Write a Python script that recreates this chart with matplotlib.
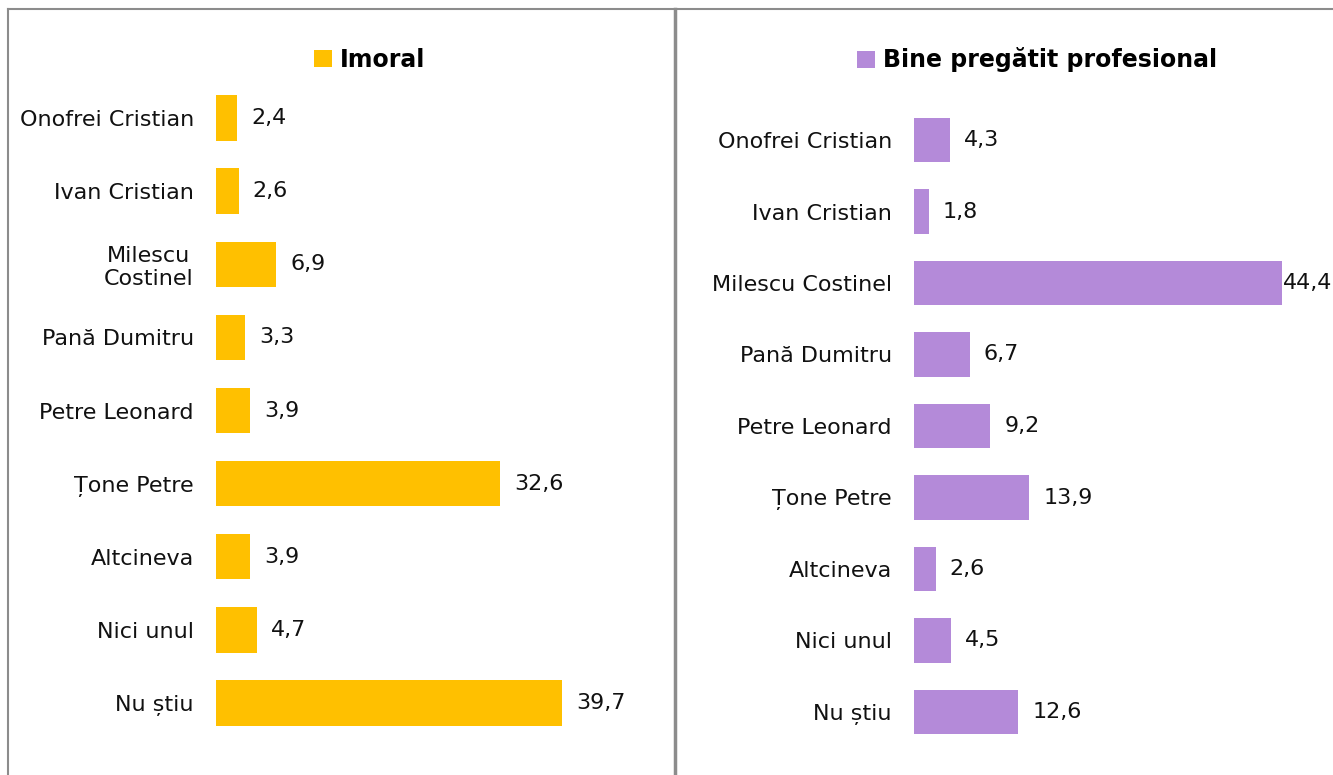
import matplotlib
matplotlib.use("Agg")
import matplotlib.pyplot as plt
from matplotlib.lines import Line2D

plt.rcParams['font.family'] = ['DejaVu Sans']

candidates_left = ["Onofrei Cristian", "Ivan Cristian", "Milescu\nCostinel", "Pană Dumitru",
                   "Petre Leonard", "Țone Petre", "Altcineva", "Nici unul", "Nu știu"]
candidates_right = ["Onofrei Cristian", "Ivan Cristian", "Milescu Costinel", "Pană Dumitru",
                    "Petre Leonard", "Țone Petre", "Altcineva", "Nici unul", "Nu știu"]
imoral = [2.4, 2.6, 6.9, 3.3, 3.9, 32.6, 3.9, 4.7, 39.7]
pregatit = [4.3, 1.8, 44.4, 6.7, 9.2, 13.9, 2.6, 4.5, 12.6]

W, H = 1333, 775
fig = plt.figure(figsize=(W / 100, H / 100), dpi=100)


def fmt(v):
    return f"{v:.1f}".replace(".", ",")


def panel(rect, labels, values, color, title, scale, legend_xy, edge_max=False):
    ax = fig.add_axes(rect)
    y = list(range(len(values)))
    bars = ax.barh(y, values, height=0.62, color=color, label=title)
    ax.set_ylim(len(values) - 0.5, -0.5)
    ax.set_xlim(0, rect[2] * W / scale)
    ax.set_yticks(y)
    ax.set_yticklabels(labels, fontsize=16, color="#111111")
    ax.tick_params(axis="y", length=0, pad=16)
    ax.set_xticks([])
    for s in ax.spines.values():
        s.set_visible(False)
    for t in ax.get_yticklabels():
        t.set_multialignment("center")
    vmax = max(values)
    for b, v in zip(bars, values):
        pad = 1 if (edge_max and v == vmax) else 14
        ax.annotate(fmt(v), (b.get_width(), b.get_y() + b.get_height() / 2),
                    xytext=(pad, 0), textcoords="offset pixels",
                    va="center", ha="left", fontsize=16, color="#111111")
    fig.legend(handles=[bars], labels=[title], loc="center",
               bbox_to_anchor=legend_xy, frameon=False,
               prop={"weight": "bold", "size": 17},
               handlelength=0.75, handleheight=0.75, handletextpad=0.35)
    return ax


# left panel
panel([216 / W, 1 - 739.6 / H, 392 / W, 658.2 / H], candidates_left, imoral,
      "#FFC000", "Imoral", 8.72, (370 / W, 1 - 60 / H))
# right panel
panel([914 / W, 1 - 747.75 / H, 400 / W, 643.5 / H], candidates_right, pregatit,
      "#B48AD9", "Bine pregătit profesional", 8.29, (1037 / W, 1 - 60 / H), edge_max=True)

# frame lines
gray = "#8c8c8c"
fig.add_artist(Line2D([8 / W, 1], [1 - 9 / H, 1 - 9 / H], color=gray, lw=1.5))
fig.add_artist(Line2D([8 / W, 8 / W], [0, 1 - 9 / H], color=gray, lw=1.5))
fig.add_artist(Line2D([675 / W, 675 / W], [0, 1 - 9 / H], color=gray, lw=2.5))

fig.savefig("out.png", dpi=100, facecolor="white")
